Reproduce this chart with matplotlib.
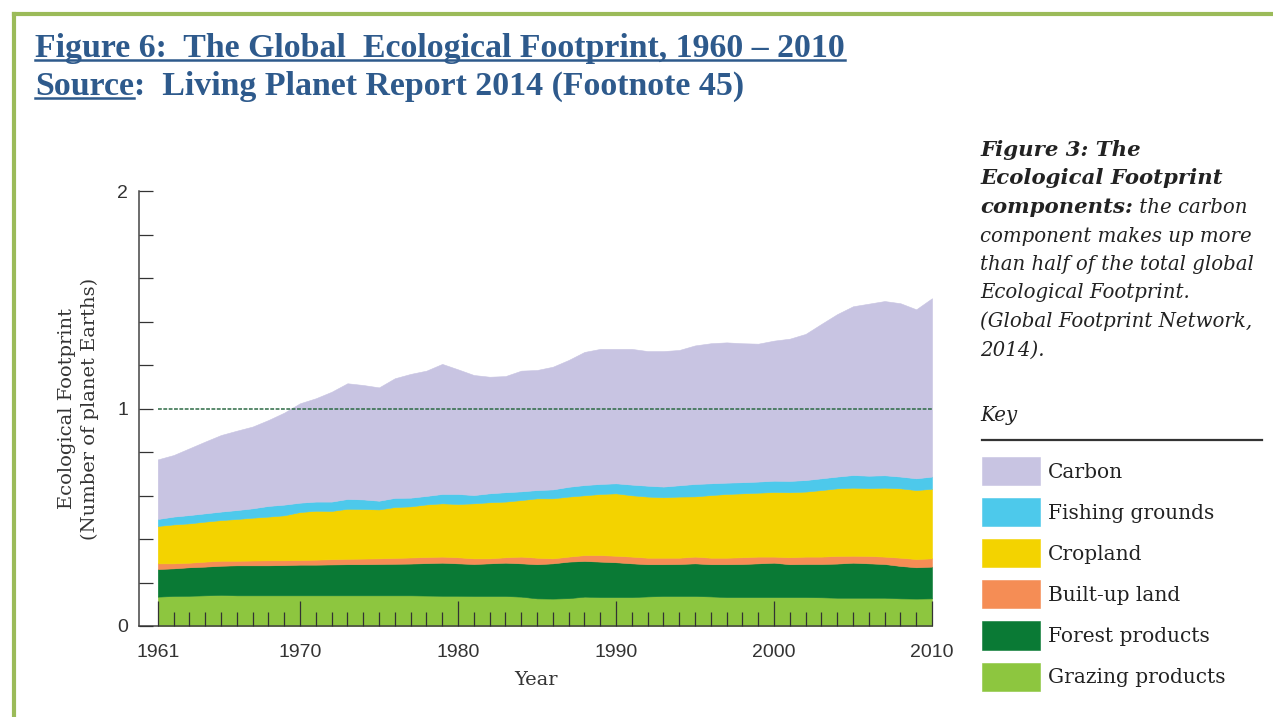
import numpy as np
import matplotlib
matplotlib.use("Agg")
import matplotlib.pyplot as plt
from matplotlib.lines import Line2D
from matplotlib import font_manager as fm

# -----------------------------
# DATA (number of planet Earths)
# -----------------------------
years = np.arange(1961, 2011)

grazing = [0.135, 0.138, 0.139, 0.141, 0.143, 0.141, 0.141, 0.141, 0.141, 0.141,
           0.141, 0.141, 0.141, 0.141, 0.141, 0.141, 0.141, 0.140, 0.139, 0.139,
           0.138, 0.138, 0.138, 0.135, 0.127, 0.126, 0.128, 0.135, 0.133, 0.133,
           0.133, 0.136, 0.138, 0.138, 0.138, 0.136, 0.133, 0.133, 0.133, 0.133,
           0.133, 0.133, 0.132, 0.130, 0.130, 0.130, 0.130, 0.127, 0.126, 0.127]
forest = [0.127, 0.127, 0.131, 0.132, 0.134, 0.138, 0.138, 0.138, 0.139, 0.141,
          0.141, 0.142, 0.143, 0.143, 0.144, 0.145, 0.146, 0.149, 0.152, 0.149,
          0.147, 0.150, 0.153, 0.153, 0.157, 0.162, 0.168, 0.164, 0.163, 0.160,
          0.155, 0.148, 0.146, 0.147, 0.150, 0.148, 0.151, 0.152, 0.155, 0.158,
          0.151, 0.152, 0.153, 0.157, 0.161, 0.158, 0.155, 0.149, 0.144, 0.146]
built_up = [0.026, 0.023, 0.021, 0.023, 0.023, 0.021, 0.022, 0.023, 0.022, 0.021,
            0.023, 0.024, 0.025, 0.026, 0.026, 0.027, 0.028, 0.028, 0.028, 0.028,
            0.026, 0.023, 0.025, 0.031, 0.030, 0.023, 0.023, 0.027, 0.030, 0.030,
            0.031, 0.030, 0.030, 0.029, 0.031, 0.030, 0.030, 0.031, 0.031, 0.028,
            0.032, 0.034, 0.034, 0.035, 0.032, 0.034, 0.034, 0.038, 0.038, 0.038]
cropland = [0.172, 0.179, 0.181, 0.184, 0.187, 0.192, 0.197, 0.201, 0.207, 0.221,
            0.225, 0.222, 0.230, 0.228, 0.225, 0.234, 0.235, 0.242, 0.245, 0.245,
            0.253, 0.258, 0.256, 0.260, 0.273, 0.276, 0.276, 0.275, 0.281, 0.287,
            0.282, 0.281, 0.278, 0.281, 0.277, 0.288, 0.293, 0.294, 0.294, 0.297,
            0.299, 0.299, 0.306, 0.311, 0.313, 0.312, 0.317, 0.319, 0.317, 0.320]
fishing = [0.032, 0.036, 0.038, 0.038, 0.039, 0.041, 0.043, 0.049, 0.049, 0.043,
           0.042, 0.043, 0.045, 0.044, 0.040, 0.042, 0.040, 0.039, 0.043, 0.046,
           0.038, 0.041, 0.043, 0.040, 0.038, 0.041, 0.045, 0.047, 0.046, 0.046,
           0.049, 0.050, 0.049, 0.052, 0.057, 0.054, 0.052, 0.051, 0.051, 0.052,
           0.052, 0.053, 0.054, 0.054, 0.058, 0.057, 0.057, 0.054, 0.054, 0.056]
carbon = [0.274, 0.283, 0.307, 0.330, 0.352, 0.365, 0.376, 0.395, 0.423, 0.457,
          0.475, 0.505, 0.532, 0.526, 0.521, 0.550, 0.569, 0.576, 0.598, 0.573,
          0.552, 0.536, 0.534, 0.555, 0.552, 0.564, 0.583, 0.612, 0.621, 0.618,
          0.624, 0.619, 0.623, 0.622, 0.637, 0.644, 0.645, 0.639, 0.634, 0.644,
          0.654, 0.672, 0.710, 0.747, 0.776, 0.791, 0.801, 0.797, 0.777, 0.820]

labels = ["Grazing products", "Forest products", "Built-up land",
          "Cropland", "Fishing grounds", "Carbon"]
colors = ["#8DC63F", "#0A7A35", "#F58D55", "#F3D300", "#4DC9EB", "#C8C4E2"]

major_years = [1961, 1970, 1980, 1990, 2000, 2010]

# -----------------------------
# FIGURE
# -----------------------------
W, H = 1273, 717
fig = plt.figure(figsize=(W / 100, H / 100), dpi=100)


def fx(px):
    return px / W


def fy(py):
    return 1 - py / H


names = {f.name for f in fm.fontManager.ttflist}
tick_font = "Liberation Sans Narrow" if "Liberation Sans Narrow" in names else "Liberation Sans"
serif = "DejaVu Serif"
title_font = "Liberation Serif"
title_color = "#2E5A8C"
title_size = 24.4
text_color = "#222222"

# green frame
fig.add_artist(Line2D([fx(14), fx(1273)], [fy(14), fy(14)], transform=fig.transFigure,
                      color="#9BBB59", lw=3))
fig.add_artist(Line2D([fx(14), fx(14)], [fy(14), fy(717)], transform=fig.transFigure,
                      color="#9BBB59", lw=3))

# -----------------------------
# CHART
# -----------------------------
ax = fig.add_axes([fx(139), fy(626), fx(932) - fx(139), fy(191) - fy(626)])
polys = ax.stackplot(years, grazing, forest, built_up, cropland, fishing, carbon,
                     colors=colors, labels=labels)
for p, c in zip(polys, colors):
    p.set_edgecolor(c)
    p.set_linewidth(0.4)

ax.hlines(1, years[0], years[-1], colors="#2E6B45", linestyles=(0, (2.5, 1)), lw=1.1, zorder=3)

ax.set_xlim(2010 - (932 - 139) / 15.8, 2010)
ax.set_ylim(0, 2)

ax.set_xticks(major_years)
ax.set_xticklabels([str(y) for y in major_years])
ax.set_xticks([y for y in years if y not in major_years], minor=True)
ax.set_yticks([0, 1, 2])
ax.set_yticklabels(["0", "1", "2"])
ax.set_yticks([0.2, 0.4, 0.6, 0.8, 1.2, 1.4, 1.6, 1.8], minor=True)

ax.tick_params(axis="x", which="major", direction="in", length=18, width=0.9,
               color="#333333", pad=13)
ax.tick_params(axis="x", which="minor", direction="in", length=10, width=0.9, color="#333333")
ax.tick_params(axis="y", which="both", direction="in", length=10, width=0.9,
               color="#333333", pad=8)
for lab in ax.get_xticklabels() + ax.get_yticklabels():
    lab.set_fontfamily(tick_font)
    lab.set_fontsize(14)
    lab.set_color("#333333")

for s in ["top", "right"]:
    ax.spines[s].set_visible(False)
for s in ["left", "bottom"]:
    ax.spines[s].set_color("#444444")
    ax.spines[s].set_linewidth(1.1)
ax.set_axisbelow(False)

ax.set_xlabel("Year", fontfamily=serif, fontsize=14, color="#333333", labelpad=7)
ax.set_ylabel("Ecological Footprint\n(Number of planet Earths)", fontfamily=serif,
              fontsize=14, color="#333333", labelpad=13, linespacing=1.35)

# -----------------------------
# TITLE
# -----------------------------
t1 = fig.text(fx(35), fy(57), "Figure 6:  The Global  Ecological Footprint, 1960 \u2013 2010",
              fontfamily=title_font, fontweight="bold", fontsize=title_size, color=title_color,
              va="baseline")
t2a = fig.text(fx(35), fy(95), "Source", fontfamily=title_font, fontweight="bold",
               fontsize=title_size, color=title_color, va="baseline")

fig.canvas.draw()
r = fig.canvas.get_renderer()
bb2a = t2a.get_window_extent(r)
t2b = fig.text(bb2a.x1 / W, fy(95), ":  Living Planet Report 2014 (Footnote 45)",
               fontfamily=title_font, fontweight="bold", fontsize=title_size, color=title_color,
               va="baseline")
bb1 = t1.get_window_extent(r)
fig.add_artist(Line2D([bb1.x0 / W, bb1.x1 / W], [fy(60), fy(60)], transform=fig.transFigure,
                      color=title_color, lw=1.8))
fig.add_artist(Line2D([bb2a.x0 / W, bb2a.x1 / W], [fy(98), fy(98)], transform=fig.transFigure,
                      color=title_color, lw=1.8))

# -----------------------------
# CAPTION (right side)
# -----------------------------
cap_x = 980
cap_size = 14.2
cap_bold_size = 15.3
cap_lines = [
    ("Figure 3: The", ""),
    ("Ecological Footprint", ""),
    ("components:", " the carbon"),
    ("", "component makes up more"),
    ("", "than half of the total global"),
    ("", "Ecological Footprint."),
    ("", "(Global Footprint Network,"),
    ("", "2014)."),
]
y0 = 156
for i, (bold, normal) in enumerate(cap_lines):
    yb = y0 + i * 28.5
    xs = fx(cap_x)
    if bold:
        tb = fig.text(xs, fy(yb), bold, fontfamily=serif, fontstyle="italic",
                      fontweight="bold", fontsize=cap_bold_size, color=text_color,
                      va="baseline")
        fig.canvas.draw()
        xs = tb.get_window_extent(fig.canvas.get_renderer()).x1 / W
    if normal:
        fig.text(xs, fy(yb), normal, fontfamily=serif, fontstyle="italic",
                 fontsize=cap_size, color=text_color, va="baseline")

fig.text(fx(cap_x), fy(421), "Key", fontfamily=serif, fontstyle="italic",
         fontsize=cap_size, color=text_color, va="baseline")
fig.add_artist(Line2D([fx(982), fx(1262)], [fy(440), fy(440)], transform=fig.transFigure,
                      color="#333333", lw=1.6))

# legend built from the stack layers
leg_size = 14.5
fs_px = leg_size * 100 / 72
fig.legend(handles=polys[::-1], labels=labels[::-1], loc="upper left",
           bbox_to_anchor=(fx(982), fy(457)), frameon=False,
           prop={"family": serif, "size": leg_size},
           handlelength=58 / fs_px, handleheight=1.23 * 29 / fs_px,
           labelspacing=(42 - 29) / fs_px, handletextpad=8 / fs_px,
           borderpad=0, borderaxespad=0, labelcolor=text_color)

fig.savefig("out.png", dpi=100)
